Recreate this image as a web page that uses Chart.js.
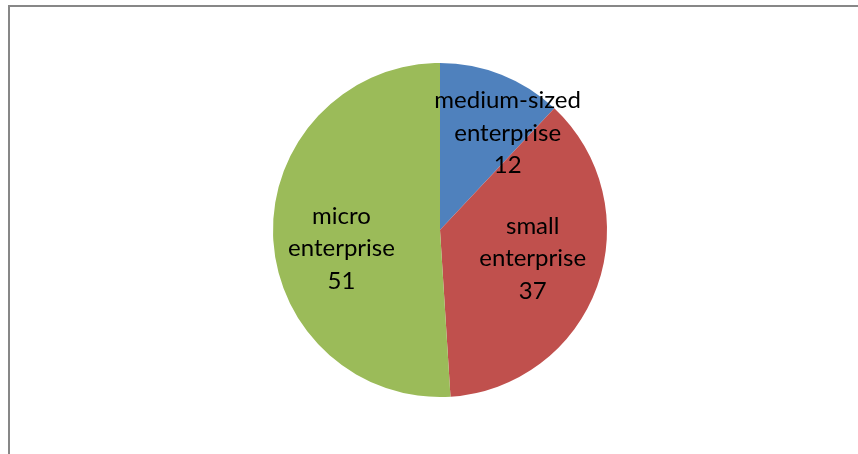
<!DOCTYPE html>
<html>
<head>
<meta charset="utf-8">
<script src="https://cdn.jsdelivr.net/npm/chart.js@4/dist/chart.umd.min.js"></script>
<style>
  html, body { margin: 0; padding: 0; background: #ffffff; }
  #wrap { position: relative; width: 858px; height: 454px; overflow: hidden; }
  #frame {
    position: absolute; left: 8px; top: 5px; width: 900px; height: 500px;
    border-left: 2px solid #878787; border-top: 2px solid #878787;
  }
  #c { position: absolute; left: 0; top: 0; }
</style>
</head>
<body>
<div id="wrap">
  <div id="frame"></div>
  <canvas id="c" width="858" height="454"></canvas>
</div>
<script>
// Enterprise size shares
const categories = ["medium-sized enterprise", "small enterprise", "micro enterprise"];
const labelLines = [["medium-sized", "enterprise"], ["small", "enterprise"], ["micro", "enterprise"]];
const shares = [12, 37, 51];
const colors = ["#4F81BD", "#C0504D", "#9BBB59"];

// Label anchor offsets as fractions of the pie radius (x, y from centre)
const labelOffsets = [[0.405, -0.58], [0.555, 0.17], [-0.59, 0.11]];

const labelPlugin = {
  id: "sliceLabels",
  afterDatasetsDraw(chart) {
    const ctx = chart.ctx;
    const meta = chart.getDatasetMeta(0);
    ctx.save();
    ctx.font = '24px Lato, "Open Sans", sans-serif';
    ctx.fillStyle = "#000000";
    ctx.textAlign = "center";
    ctx.textBaseline = "middle";
    const lineH = 32.5;
    meta.data.forEach((arc, i) => {
      const r = arc.outerRadius;
      const cx = arc.x + labelOffsets[i][0] * r;
      const cy = arc.y + labelOffsets[i][1] * r;
      const lines = labelLines[i].concat([String(shares[i])]);
      const top = cy - (lines.length - 1) * lineH / 2;
      lines.forEach((t, k) => ctx.fillText(t, cx, top + k * lineH));
    });
    ctx.restore();
  }
};

new Chart(document.getElementById("c"), {
  type: "pie",
  data: {
    labels: categories,
    datasets: [{
      data: shares,
      backgroundColor: colors,
      borderWidth: 0
    }]
  },
  options: {
    responsive: false,
    animation: false,
    layout: { padding: { left: 273, right: 251, top: 63, bottom: 57 } },
    plugins: {
      legend: { display: false },
      tooltip: { enabled: false }
    }
  },
  plugins: [labelPlugin]
});
</script>
</body>
</html>
